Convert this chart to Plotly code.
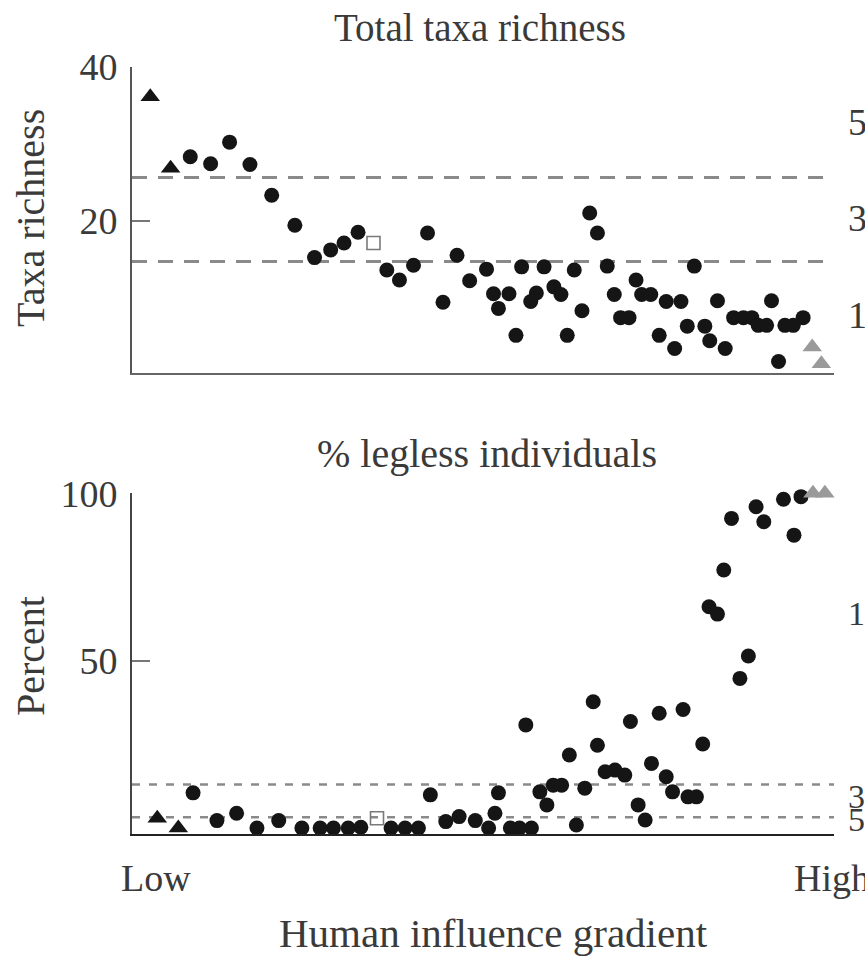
import plotly.graph_objects as go

# ---------------- data ----------------
# Top panel: total taxa richness along the human-influence gradient (0 = low, 100 = high)
rich_site_x = [8.3, 11.2, 13.9, 16.8, 19.9, 23.2, 26.0, 28.3, 30.2, 32.2,
               36.3, 38.1, 40.1, 42.1, 44.3, 46.3, 48.1, 50.5, 51.5, 52.2,
               53.7, 54.7, 55.5, 56.8, 57.6, 58.7, 60.1, 61.1, 62.0, 63.0,
               64.1, 65.2, 66.3, 67.7, 68.7, 69.6, 70.8, 71.8, 72.6, 73.9,
               75.1, 76.1, 77.3, 78.2, 79.1, 80.1, 81.6, 82.3, 83.4, 84.5,
               85.7, 87.1, 88.3, 89.2, 90.4, 91.1, 92.1, 93.0, 94.2, 95.6]
rich_site_y = [28.3, 27.4, 30.2, 27.3, 23.3, 19.4, 15.2, 16.2, 17.1, 18.5,
               13.6, 12.3, 14.2, 18.4, 9.4, 15.5, 12.2, 13.7, 10.5, 8.6,
               10.5, 5.1, 14.0, 9.5, 10.6, 14.0, 11.4, 10.4, 5.1, 13.6,
               8.3, 21.0, 18.4, 14.1, 10.4, 7.4, 7.4, 12.3, 10.4, 10.4,
               5.1, 9.5, 3.4, 9.5, 6.3, 14.1, 6.3, 4.4, 9.6, 3.4,
               7.4, 7.4, 7.4, 6.4, 6.4, 9.6, 1.7, 6.4, 6.4, 7.4]
rich_ref_x = [2.6, 5.5]          # reference sites (black triangles)
rich_ref_y = [36.1, 26.8]
rich_sq_x = [34.4]               # open square site
rich_sq_y = [17.1]
rich_worst_x = [96.9, 98.2]      # most impacted sites (grey triangles)
rich_worst_y = [3.6, 1.4]
rich_thresholds = [25.6, 14.7]

# Bottom panel: % legless individuals
leg_site_x = [8.7, 12.1, 14.9, 17.8, 20.9, 24.2, 26.8, 28.7, 30.8, 32.6,
              36.9, 38.9, 40.8, 42.5, 44.7, 46.6, 48.9, 50.8, 51.7, 52.2,
              53.9, 55.2, 56.1, 56.9, 58.1, 59.1, 60.0, 61.2, 62.3, 63.3,
              64.5, 65.7, 66.3, 67.4, 68.8, 70.2, 71.0, 72.1, 73.1, 74.0,
              75.1, 76.1, 77.0, 78.5, 79.2, 80.4, 81.3, 82.2, 83.4, 84.3,
              85.4, 86.6, 87.8, 88.9, 90.0, 90.9, 92.1, 92.8, 94.3, 95.3]
leg_site_y = [10.5, 2.2, 4.4, 0, 2.2, 0, 0, 0, 0, 0.2,
              0, 0, 0, 9.9, 1.9, 3.4, 2.2, 0, 4.4, 10.5,
              0, 0, 30.8, 0, 10.8, 6.9, 12.8, 12.8, 21.8, 0.9,
              11.9, 37.7, 24.7, 16.8, 17.3, 15.8, 31.8, 6.9, 2.4, 19.3,
              34.3, 15.3, 10.8, 35.4, 9.3, 9.3, 25.1, 66.1, 63.9, 77.1,
              92.5, 44.7, 51.4, 96.0, 91.5, 100.2, 101.9, 98.2, 87.5, 99.0]
leg_ref_x = [3.6, 6.6]
leg_ref_y = [2.9, 0]
leg_sq_x = [34.9]
leg_sq_y = [2.9]
leg_worst_x = [97.0, 98.7]
leg_worst_y = [100, 100]
leg_thresholds = [13.0, 3.2]

top_title = "Total taxa richness"
bottom_title = "% legless individuals"
top_ylabel = "Taxa richness"
bottom_ylabel = "Percent"
top_ticks = [20, 40]
bottom_ticks = [50, 100]
x_low, x_high = "Low", "High"
x_title = "Human influence gradient"
top_edge_labels = ["5", "3", "1"]
bottom_edge_labels = ["1", "3", "5"]

# ---------------- figure ----------------
W, H = 865, 956
FONT = "Liberation Serif"
TXT = "#3a3a3a"
BLACK = "#151515"
GREY_TRI = "#9a9a9a"
DASH = "#8a8a8a"

def px_x(p):
    return p / W

def px_y(p):
    return 1 - p / H

fig = go.Figure()

def add_panel(xa, ya, sx, sy, rx, ry, qx, qy, wx, wy):
    fig.add_trace(go.Scatter(x=sx, y=sy, mode="markers", xaxis=xa, yaxis=ya,
                             marker=dict(symbol="circle", size=15, color=BLACK, line=dict(width=0)),
                             cliponaxis=False, showlegend=False))
    fig.add_trace(go.Scatter(x=rx, y=ry, mode="markers", xaxis=xa, yaxis=ya,
                             marker=dict(symbol="triangle-up", size=17, color=BLACK, line=dict(width=0)),
                             cliponaxis=False, showlegend=False))
    fig.add_trace(go.Scatter(x=qx, y=qy, mode="markers", xaxis=xa, yaxis=ya,
                             marker=dict(symbol="square-open", size=13, color="#7a7a7a",
                                         line=dict(width=1.6, color="#7a7a7a")),
                             cliponaxis=False, showlegend=False))
    fig.add_trace(go.Scatter(x=wx, y=wy, mode="markers", xaxis=xa, yaxis=ya,
                             marker=dict(symbol="triangle-up", size=17, color=GREY_TRI, line=dict(width=0)),
                             cliponaxis=False, showlegend=False))

add_panel("x", "y", rich_site_x, rich_site_y, rich_ref_x, rich_ref_y,
          rich_sq_x, rich_sq_y, rich_worst_x, rich_worst_y)
add_panel("x2", "y2", leg_site_x, leg_site_y, leg_ref_x, leg_ref_y,
          leg_sq_x, leg_sq_y, leg_worst_x, leg_worst_y)

for t in rich_thresholds:
    fig.add_shape(type="line", xref="x", yref="y", x0=0, x1=100, y0=t, y1=t,
                  line=dict(color=DASH, width=3, dash="15px,11px"), layer="below")
for t in leg_thresholds:
    fig.add_shape(type="line", xref="x2", yref="y2", x0=0, x1=100, y0=t, y1=t,
                  line=dict(color=DASH, width=2.5, dash="8px,9px"), layer="below")

xdom = [px_x(132), px_x(834)]
axis_common = dict(showgrid=False, zeroline=False, automargin=False)
fig.update_layout(
    width=W, height=H,
    margin=dict(l=0, r=0, t=0, b=0, pad=0),
    paper_bgcolor="white", plot_bgcolor="white",
    font=dict(family=FONT, size=38, color=TXT),
    xaxis=dict(domain=xdom, range=[0, 100], showline=True, linecolor="#666", linewidth=2,
               showticklabels=False, ticks="", anchor="y", **axis_common),
    yaxis=dict(domain=[px_y(372.7), px_y(66.7)], range=[0.25, 40], showline=True,
               linecolor="#555", linewidth=2, ticks="inside", ticklen=18, tickwidth=2,
               tickcolor="#777", tickvals=top_ticks, ticktext=[str(v) for v in top_ticks],
               tickfont=dict(family=FONT, size=38, color=TXT), ticklabelstandoff=5,
               anchor="x", **axis_common),
    xaxis2=dict(domain=xdom, range=[0, 100], showline=True, linecolor="#222", linewidth=2,
                showticklabels=False, ticks="", anchor="y2", **axis_common),
    yaxis2=dict(domain=[px_y(834), px_y(493.3)], range=[-1.8, 100], showline=True,
                linecolor="#444", linewidth=2, ticks="inside", ticklen=18, tickwidth=2,
                tickcolor="#777", tickvals=bottom_ticks, ticktext=[str(v) for v in bottom_ticks],
                tickfont=dict(family=FONT, size=38, color=TXT), ticklabelstandoff=5,
                anchor="x2", **axis_common),
)

def ann(text, x, y, xanchor="center", yanchor="middle", angle=0, size=38):
    fig.add_annotation(text=text, xref="paper", yref="paper", x=px_x(x), y=px_y(y),
                       xanchor=xanchor, yanchor=yanchor, showarrow=False, textangle=angle,
                       font=dict(family=FONT, size=size, color=TXT))

ann(top_title, 480, 27, size=39)
ann(bottom_title, 487, 453, size=40)
ann(top_ylabel, 30, 218, angle=-90, size=40)
ann(bottom_ylabel, 30, 656, angle=-90, size=40)
ann(x_low, 119, 878, xanchor="left")
ann(x_high, 792, 878, xanchor="left")
ann(x_title, 493, 933, size=41)
for lab, yy in zip(top_edge_labels, [122, 218, 315]):
    ann(lab, 846, yy, xanchor="left")
for lab, yy in zip(bottom_edge_labels, [613, 796, 819]):
    ann(lab, 846, yy, xanchor="left", size=34)

fig.write_html(
    "out.html",
    config={"displayModeBar": False, "staticPlot": True},
    post_script="document.body.style.margin='0px';document.body.style.overflow='hidden';",
)
